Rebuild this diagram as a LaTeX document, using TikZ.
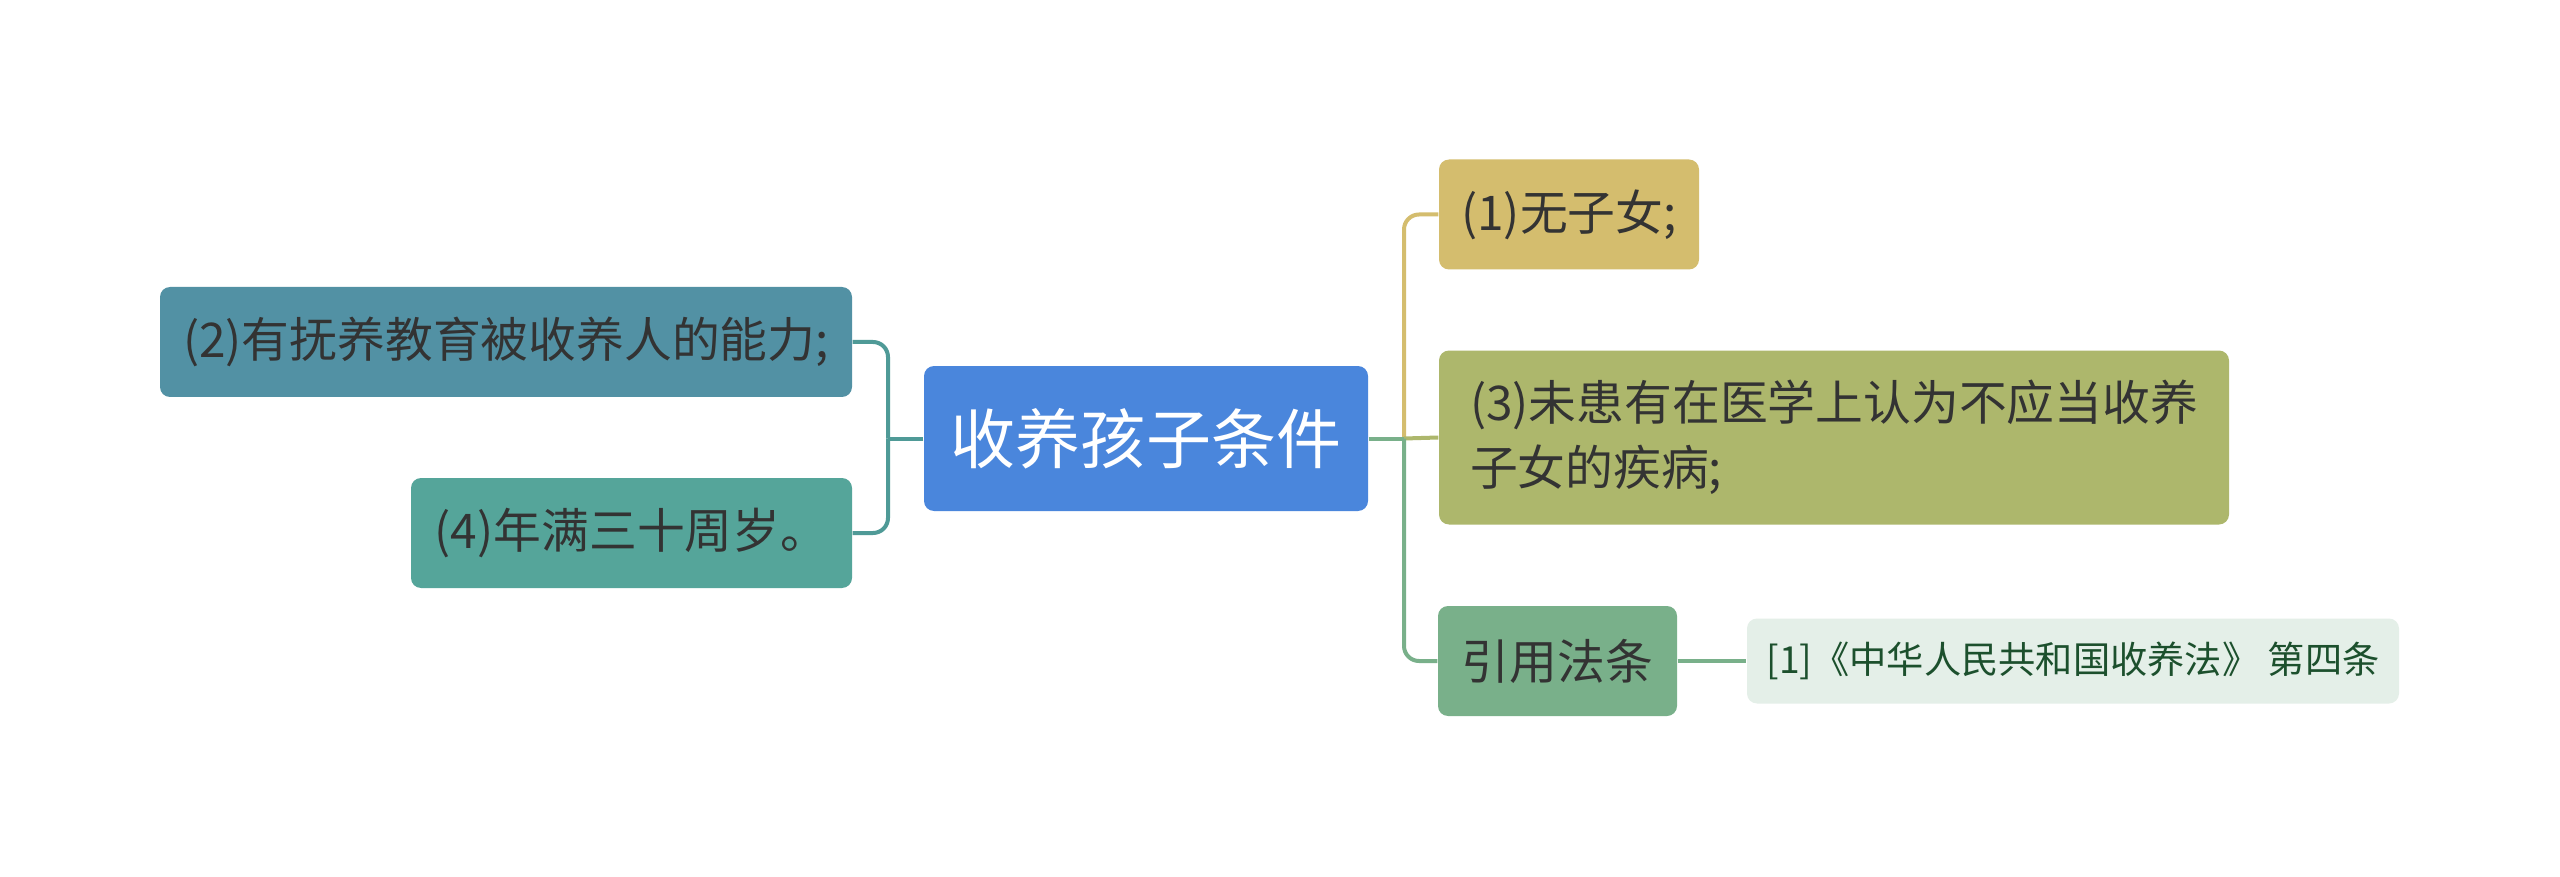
\documentclass[tikz,border=0pt]{standalone}
\usepackage{fontspec}
\setmainfont{Noto Sans CJK SC}
\definecolor{cRoot}{RGB}{74,134,220}
\definecolor{cTwo}{RGB}{82,145,164}
\definecolor{cFour}{RGB}{85,165,154}
\definecolor{cOne}{RGB}{212,189,110}
\definecolor{cThree}{RGB}{173,183,108}
\definecolor{cLaw}{RGB}{121,176,138}
\definecolor{cRef}{RGB}{228,239,232}
\definecolor{cRefText}{RGB}{28,80,45}
\definecolor{cText}{RGB}{51,51,51}
\definecolor{cLeftLine}{RGB}{79,154,151}
\definecolor{cOneLine}{RGB}{212,189,110}
\definecolor{cThreeLine}{RGB}{173,183,108}
\definecolor{cLawLine}{RGB}{121,176,138}
\begin{document}
\begin{tikzpicture}[x=0.1mm,y=-0.1mm,
  box/.style={rounded corners=1mm, inner sep=0pt, text=cText, font=\fontsize{13.6pt}{18.5pt}\selectfont},
  link/.style={line width=0.4mm, rounded corners=1.5mm}]
\useasboundingbox[fill=white] (0,0) rectangle (2560,877);
\node[box, fill=cRoot, text=white, minimum width=44.4mm, minimum height=14.5mm,
  font=\fontsize{18.5pt}{22pt}\selectfont] (root) at (1146,438.5) {收养孩子条件};
\node[box, fill=cTwo, minimum width=69.2mm, minimum height=11mm] (n2) at (506,342) {(2)有抚养教育被收养人的能力;};
\node[box, fill=cFour, minimum width=44.1mm, minimum height=11mm] (n4) at (631.5,533) {(4)年满三十周岁。};
\node[box, fill=cOne, minimum width=26mm, minimum height=11mm] (n1) at (1569,214.5) {(1)无子女;};
\node[box, fill=cThree, minimum width=79mm, minimum height=17.4mm, align=left] (n3) at (1834,437.5) {(3)未患有在医学上认为不应当收养\\子女的疾病;};
\node[box, fill=cLaw, minimum width=23.9mm, minimum height=11mm] (law) at (1557.5,661) {引用法条};
\node[box, fill=cRef, text=cRefText, minimum width=65.2mm, minimum height=8.5mm,
  font=\fontsize{10.6pt}{13pt}\selectfont] (ref) at (2073,661) {[1]《中华人民共和国收养法》 第四条};
\coordinate (jl) at (888,438.5);
\coordinate (jr) at (1404,438.5);
\draw[link, cLeftLine] (root.west) -- (jl);
\draw[link, cLeftLine] (jl) |- (n2.east);
\draw[link, cLeftLine] (jl) |- (n4.east);
\draw[link, cOneLine] (jr) |- (n1.west);
\draw[link, cThreeLine] (jr) -- (n3.west);
\draw[link, cLawLine] (jr) |- (law.west);
\draw[link, cLawLine] (root.east) -- (jr);
\draw[link, cLawLine] (law.east) -- (ref.west);
\end{tikzpicture}
\end{document}
